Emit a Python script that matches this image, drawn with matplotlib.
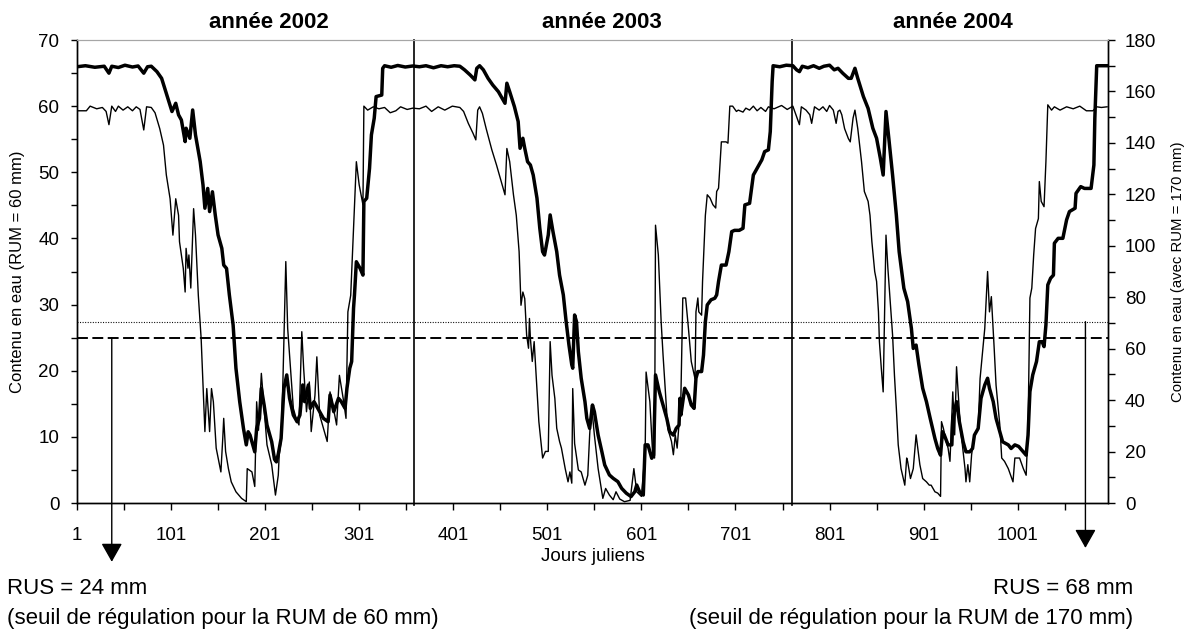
import matplotlib.pyplot as plt

plt.rcParams['font.family'] = ['Liberation Sans', 'DejaVu Sans']

# contenu en eau, RUM = 60 mm (trait fin, axe gauche)
days_60 = [1, 11, 15, 22, 28, 32, 35, 38, 42, 45, 50, 55, 60, 64, 68, 72, 75, 80, 84, 89,
           93, 96, 100, 103, 106, 109, 110, 114, 116, 117, 119, 120, 122, 125, 127, 130, 133, 135, 137, 139,
           142, 144, 146, 149, 154, 156, 157, 159, 162, 165, 170, 176, 181, 182, 187, 190, 192, 194, 197, 203,
           208, 212, 215, 216, 218, 220, 223, 225, 227, 231, 234, 237, 240, 242, 245, 248, 250, 254, 256, 259,
           263, 267, 270, 273, 277, 280, 284, 287, 289, 292, 295, 298, 301, 305, 306, 310, 316, 322, 328, 334,
           340, 345, 352, 358, 365, 372, 378, 385, 392, 400, 408, 412, 417, 422, 425, 427, 429, 432, 436, 442,
           447, 452, 456, 458, 461, 465, 468, 471, 473, 475, 477, 479, 481, 482, 483, 485, 487, 490, 492, 496,
           499, 502, 504, 506, 509, 511, 514, 516, 520, 523, 525, 527, 528, 530, 534, 537, 541, 544, 546, 548,
           551, 555, 560, 563, 567, 571, 574, 578, 583, 589, 593, 596, 601, 605, 606, 610, 613, 615, 616, 619,
           622, 624, 627, 629, 633, 635, 637, 639, 642, 643, 645, 648, 651, 654, 658, 659, 661, 662, 665, 666,
           669, 671, 674, 677, 680, 681, 683, 686, 691, 693, 695, 698, 702, 704, 709, 712, 716, 720, 724, 728,
           733, 736, 742, 750, 756, 762, 766, 769, 771, 776, 780, 782, 785, 790, 794, 798, 801, 805, 808, 810,
           812, 814, 817, 821, 823, 826, 828, 831, 835, 838, 842, 844, 846, 849, 851, 853, 854, 856, 858, 861,
           863, 865, 868, 870, 872, 874, 877, 881, 883, 884, 887, 890, 893, 897, 900, 904, 907, 909, 913, 916,
           919, 920, 922, 925, 927, 929, 932, 934, 936, 939, 941, 945, 946, 948, 950, 952, 955, 959, 961, 964,
           966, 969, 971, 973, 976, 978, 982, 984, 987, 991, 996, 998, 1003, 1007, 1010, 1012, 1014, 1016, 1018, 1020,
           1023, 1024, 1026, 1029, 1031, 1033, 1037, 1040, 1046, 1053, 1060, 1067, 1074, 1081, 1085, 1090, 1096]
eau_60 = [59.3, 59.3, 60.0, 59.6, 59.8, 59.2, 57.2, 60.0, 59.2, 60.0, 59.4, 59.9, 59.3, 59.9, 59.5, 56.4, 59.9, 59.8, 59.0, 56.6,
          54.1, 49.6, 46.0, 40.5, 46.0, 43.5, 39.5, 35.5, 31.9, 38.5, 35.5, 37.5, 32.5, 44.5, 40.5, 31.4, 24.9, 17.8, 10.8, 17.3,
          10.8, 17.3, 15.3, 8.3, 4.7, 9.8, 12.8, 7.8, 5.2, 3.2, 1.7, 0.7, 0.2, 5.2, 4.7, 2.5, 15.3, 11.0, 19.6, 8.8,
          5.8, 1.2, 4.2, 7.3, 9.3, 18.8, 36.5, 26.4, 22.4, 14.3, 12.8, 11.8, 25.9, 20.3, 13.8, 18.3, 10.8, 16.3, 22.1, 13.3,
          11.3, 9.3, 16.8, 14.8, 11.8, 19.3, 15.8, 12.8, 28.9, 31.4, 41.5, 51.6, 48.1, 45.1, 60.0, 59.4, 59.9, 59.6, 59.8, 59.0,
          59.3, 59.9, 59.5, 59.7, 59.6, 60.0, 59.2, 59.9, 59.4, 60.0, 59.8, 59.2, 57.4, 55.9, 54.9, 59.4, 59.9, 58.9, 56.6, 53.4,
          51.1, 48.6, 46.6, 53.6, 51.6, 46.6, 43.5, 38.0, 29.9, 31.9, 30.9, 25.4, 23.4, 27.9, 24.9, 21.4, 24.4, 17.3, 12.3, 6.8,
          7.8, 7.8, 24.4, 19.3, 15.8, 11.3, 9.3, 8.3, 5.2, 3.2, 4.7, 3.0, 17.3, 9.0, 5.0, 4.7, 2.7, 4.2, 10.3, 14.8,
          10.3, 5.2, 0.7, 2.2, 1.2, 0.5, 1.7, 0.6, 0.2, 0.4, 5.2, 1.7, 1.0, 7.8, 19.8, 15.3, 7.3, 6.8, 42.0, 37.5,
          27.4, 22.4, 15.8, 11.3, 9.3, 7.3, 10.3, 8.3, 13.8, 16.3, 31.0, 31.0, 26.4, 21.4, 18.8, 28.9, 31.0, 28.9, 28.4, 33.5,
          43.5, 46.6, 46.1, 45.1, 44.6, 47.1, 47.6, 54.6, 54.6, 54.4, 60.0, 60.0, 59.2, 59.4, 59.1, 59.7, 59.4, 60.0, 59.3, 59.8,
          59.2, 59.9, 59.6, 60.1, 59.5, 60.0, 58.4, 57.2, 59.9, 59.4, 58.7, 57.4, 59.9, 59.4, 59.9, 59.2, 60.1, 59.4, 57.4, 59.2,
          59.4, 58.7, 56.6, 55.1, 54.6, 58.2, 59.4, 56.6, 51.6, 47.1, 45.6, 43.5, 39.5, 35.0, 33.5, 28.9, 24.4, 20.4, 16.8, 40.5,
          35.5, 31.4, 25.4, 19.3, 14.3, 8.8, 5.2, 2.7, 6.8, 6.3, 3.7, 5.2, 10.3, 5.8, 3.7, 3.2, 2.7, 2.7, 1.7, 1.5,
          1.0, 12.3, 11.3, 9.3, 8.3, 6.3, 16.8, 10.3, 20.6, 13.8, 10.3, 5.2, 3.2, 5.8, 3.2, 7.3, 10.3, 11.3, 18.8, 23.4,
          26.4, 35.0, 28.9, 31.2, 23.4, 17.8, 11.8, 6.8, 6.3, 5.2, 3.2, 6.8, 6.8, 5.2, 4.2, 11.3, 31.0, 32.5, 37.5, 41.5,
          43.0, 48.6, 45.6, 44.8, 51.6, 60.2, 59.4, 59.9, 59.4, 59.9, 59.6, 60.0, 59.3, 59.3, 59.9, 59.8, 59.9]

# contenu en eau, RUM = 170 mm (trait epais, axe droit)
days_170 = [1, 10, 20, 30, 35, 38, 45, 52, 60, 66, 72, 76, 80, 86, 91, 96, 102, 106, 109, 112,
            116, 117, 121, 124, 127, 132, 135, 137, 140, 142, 145, 148, 151, 155, 157, 160, 163, 167, 170, 174,
            178, 181, 183, 185, 187, 190, 192, 195, 197, 200, 203, 208, 211, 213, 215, 218, 221, 224, 227, 231,
            235, 238, 241, 243, 247, 249, 253, 257, 263, 268, 270, 274, 279, 282, 286, 288, 291, 293, 295, 296,
            298, 302, 305, 306, 309, 312, 314, 317, 319, 325, 326, 328, 335, 342, 350, 358, 365, 372, 380, 388,
            395, 402, 408, 413, 419, 424, 426, 429, 433, 438, 443, 449, 454, 456, 458, 461, 466, 470, 472, 475,
            477, 480, 483, 486, 490, 493, 496, 498, 502, 504, 507, 511, 514, 518, 521, 524, 527, 528, 530, 532,
            534, 537, 541, 543, 546, 549, 551, 555, 559, 562, 567, 571, 576, 580, 585, 590, 594, 596, 599, 603,
            605, 608, 612, 614, 616, 620, 624, 628, 631, 635, 638, 641, 642, 643, 647, 651, 654, 657, 659, 661,
            665, 667, 669, 671, 675, 679, 681, 683, 686, 691, 694, 697, 700, 705, 709, 711, 716, 720, 723, 727,
            729, 732, 736, 738, 740, 741, 748, 755, 762, 766, 769, 772, 778, 784, 790, 795, 801, 806, 810, 815,
            821, 824, 828, 831, 837, 842, 847, 851, 855, 858, 861, 864, 868, 872, 875, 880, 884, 888, 890, 893,
            896, 900, 904, 908, 913, 916, 919, 921, 923, 927, 931, 932, 936, 939, 943, 946, 950, 953, 955, 959,
            961, 962, 966, 969, 971, 975, 978, 982, 985, 991, 994, 998, 1002, 1007, 1010, 1012, 1014, 1017, 1021, 1024,
            1027, 1029, 1031, 1033, 1036, 1039, 1040, 1044, 1049, 1053, 1056, 1062, 1063, 1068, 1072, 1079, 1082, 1083, 1085, 1097]
eau_170 = [169.6, 170.0, 169.4, 169.8, 167.1, 169.8, 169.3, 170.2, 169.5, 169.9, 167.1, 169.6, 169.8, 167.7, 165.1, 159.3, 152.2, 155.4, 150.9, 148.9,
           140.5, 145.7, 141.8, 152.8, 143.1, 132.7, 123.6, 114.6, 122.3, 113.3, 121.0, 112.0, 104.2, 99.0, 92.5, 91.2, 80.9, 69.2, 52.4, 39.4,
           29.0, 22.6, 27.7, 26.4, 23.8, 19.9, 29.0, 32.9, 44.6, 38.0, 30.3, 23.8, 17.0, 16.0, 19.0, 25.1, 44.6, 49.8, 40.7, 34.2,
           31.6, 34.2, 45.9, 39.4, 45.9, 36.8, 39.4, 36.8, 32.9, 31.6, 42.0, 35.5, 40.7, 39.4, 36.8, 44.6, 52.4, 55.0, 75.7, 80.9,
           93.8, 91.2, 88.6, 117.2, 118.5, 130.1, 143.1, 149.6, 158.0, 158.6, 169.0, 170.0, 169.4, 170.1, 169.5, 169.9, 169.6, 170.0, 169.2, 170.0,
           169.6, 170.0, 169.8, 168.4, 166.4, 164.5, 169.0, 170.0, 168.4, 165.1, 162.5, 159.9, 156.7, 155.4, 163.2, 159.9, 154.1, 148.3, 137.9, 141.8,
           137.9, 132.7, 131.4, 127.5, 118.5, 106.8, 97.7, 96.4, 104.2, 112.0, 105.5, 97.7, 88.6, 80.9, 70.5, 61.4, 53.7, 52.4, 73.1, 70.5,
           58.8, 48.5, 39.4, 32.9, 29.0, 38.1, 35.5, 26.4, 19.9, 14.8, 10.9, 9.6, 8.3, 5.7, 3.8, 2.5, 4.4, 7.0, 4.4, 3.1,
           22.6, 22.6, 17.4, 18.6, 49.8, 43.3, 38.1, 32.9, 27.7, 26.4, 29.0, 30.3, 40.7, 34.2, 44.6, 42.0, 38.1, 36.8, 48.5, 51.1,
           51.1, 57.5, 70.5, 77.0, 79.0, 79.6, 80.9, 86.1, 92.5, 92.5, 97.7, 105.5, 106.0, 106.0, 106.8, 115.9, 116.5, 127.5, 129.5, 132.1,
           133.4, 136.6, 137.3, 144.4, 163.8, 170.0, 169.6, 170.2, 170.0, 168.4, 167.7, 169.8, 169.2, 170.0, 169.0, 169.8, 170.2, 168.4, 169.0, 167.1,
           165.1, 165.1, 169.0, 165.1, 158.0, 153.4, 145.7, 141.8, 134.0, 127.5, 152.2, 141.8, 127.5, 112.0, 97.7, 83.5, 78.3, 67.9, 60.1, 61.4,
           53.7, 44.6, 39.4, 32.9, 25.1, 21.2, 18.6, 27.7, 26.4, 22.6, 22.6, 32.9, 39.4, 31.6, 23.8, 19.9, 19.9, 21.2, 26.4, 29.0,
           36.8, 40.7, 45.9, 48.5, 44.6, 39.4, 32.9, 27.7, 23.8, 22.6, 21.2, 22.6, 22.0, 19.9, 18.6, 26.4, 43.3, 49.8, 55.0, 62.7,
           62.7, 60.8, 69.2, 84.8, 87.4, 88.6, 101.0, 102.9, 102.9, 110.1, 113.3, 114.6, 120.4, 123.0, 122.3, 122.3, 131.4, 149.6, 170.0, 170.0]

year_labels = ['année 2002', 'année 2003', 'année 2004']
year_breaks = [359, 761]
seuil_60 = 25      # tirets, axe gauche
seuil_170 = 70.5   # pointilles, axe droit
arrow_days = [38, 1073]

fig = plt.figure(figsize=(11.95, 6.29), dpi=100)
ax = fig.add_axes([0.0644, 0.2003, 0.8628, 0.7361])
ax2 = ax.twinx()

ax.plot(days_60, eau_60, color='black', lw=1.0)
ax2.plot(days_170, eau_170, color='black', lw=2.5)

ax.axhline(seuil_60, color='black', lw=1.4, ls=(0, (5.6, 2.3)))
ax2.axhline(seuil_170, color='black', lw=0.8, ls=(0, (0.9, 1.4)))
for d in year_breaks:
    ax.axvline(d, ymin=-0.005, ymax=1, color='black', lw=1.2, clip_on=False)

# fleches vers les seuils
arrow_kw = dict(arrowstyle='-|>,head_length=11.5,head_width=6.5', color='black',
                lw=1.0, shrinkA=0, shrinkB=0, mutation_scale=1)
ax.annotate('', xy=(arrow_days[0], -0.127), xycoords=ax.get_xaxis_transform(),
            xytext=(arrow_days[0], seuil_60), textcoords='data', arrowprops=arrow_kw,
            annotation_clip=False)
ax2.annotate('', xy=(arrow_days[1], -0.097), xycoords=ax2.get_xaxis_transform(),
             xytext=(arrow_days[1], seuil_170), textcoords='data', arrowprops=arrow_kw,
             annotation_clip=False)

ax.set_xlim(1, 1097)
ax.set_ylim(0, 70)
ax2.set_ylim(0, 180)

ax.set_xticks(range(1, 1002, 100))
ax.set_xticks(range(51, 1097, 100), minor=True)
ax.set_yticks(range(0, 71, 10))
ax.set_yticks(range(5, 70, 10), minor=True)
ax2.set_yticks(range(0, 181, 20))
ax2.set_yticks(range(10, 180, 20), minor=True)

ax.tick_params(axis='x', which='both', direction='out', length=5, width=1, labelsize=13.5, pad=12.5)
ax.tick_params(axis='y', which='both', direction='out', length=4.2, width=1, labelsize=13.5, pad=8.5)
ax2.tick_params(axis='y', which='both', direction='out', length=4.8, width=1, labelsize=13.5, pad=7.5)

for a in (ax, ax2):
    a.spines['top'].set_color('#a6a6a6')
    for s in ('left', 'right', 'bottom'):
        a.spines[s].set_linewidth(1.0)

ax.set_xlabel('Jours juliens', fontsize=13.5)
ax.xaxis.set_label_coords(0.5, -0.1166)
ax.xaxis.label.set_va('center')
ax.set_ylabel('Contenu en eau (RUM = 60 mm)', fontsize=12)
ax.yaxis.set_label_coords(-0.0572, 0.5)
ax.yaxis.label.set_va('center')
ax2.set_ylabel('Contenu en eau (avec RUM = 170 mm)', fontsize=10.7, rotation=90)
ax2.yaxis.set_label_coords(1.068, 0.5)
ax2.yaxis.label.set_va('center')

for lab, x in zip(year_labels, [0.225, 0.504, 0.7975]):
    fig.text(x, 0.964, lab, fontsize=16, fontweight='bold', ha='center', va='center')

fig.text(0.006, 0.065, 'RUS = 24 mm', fontsize=16, ha='left', va='center')
fig.text(0.006, 0.016, '(seuil de régulation pour la RUM de 60 mm)', fontsize=16, ha='left', va='center')
fig.text(0.948, 0.065, 'RUS = 68 mm', fontsize=16, ha='right', va='center')
fig.text(0.948, 0.016, '(seuil de régulation pour la RUM de 170 mm)', fontsize=16, ha='right', va='center')

fig.savefig('out.png', dpi=100)
